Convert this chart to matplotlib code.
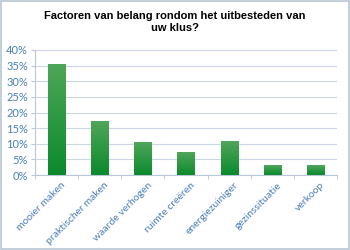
import matplotlib
matplotlib.use("Agg")
import matplotlib.pyplot as plt
import numpy as np
from matplotlib.patches import Rectangle

categories = ["mooier maken", "praktischer maken", "waarde verhogen", "ruimte creëren",
              "energiezuiniger", "gezinssituatie", "verkoop"]
values = [35.5, 17.0, 10.3, 7.3, 10.8, 2.9, 3.0]
yticks = [0, 5, 10, 15, 20, 25, 30, 35, 40]

fig = plt.figure(figsize=(3.5, 2.5), dpi=100)
fig.patches.append(Rectangle((0.003, 0.004), 0.994, 0.992, transform=fig.transFigure,
                             fill=False, edgecolor="#b9c6d6", linewidth=1.2))
ax = fig.add_axes([0.1, 0.3, 0.863, 0.5])

x = np.arange(len(categories))
width = 0.4
bars = ax.bar(x, values, width=width, color="none", zorder=3)

# vertical gradient inside each bar
grad = np.linspace(0, 1, 256).reshape(-1, 1)
cmap = matplotlib.colors.LinearSegmentedColormap.from_list("g", ["#0b8a2c", "#4fa65a"])
for b in bars:
    x0, y0 = b.get_x(), b.get_y()
    w, h = b.get_width(), b.get_height()
    ax.imshow(grad, extent=[x0, x0 + w, y0, y0 + h], origin="lower", cmap=cmap,
              aspect="auto", zorder=3)

ax.set_xlim(-0.5, len(categories) - 0.5)
ax.set_ylim(0, 40)
ax.set_yticks(yticks)
ax.set_yticklabels([f"{t}%" for t in yticks], family="Lato", color="#4a7ebb", fontsize=8)
ax.set_xticks(x + 0.1)
ax.set_xticklabels(categories, rotation=45, ha="right", rotation_mode="anchor",
                   family="Lato", color="#4a7ebb", fontsize=7.5)
ax.tick_params(axis="x", length=0, pad=4)
ax.set_xticks(np.arange(len(categories) + 1) - 0.5, minor=True)
ax.tick_params(axis="x", which="minor", length=3, color="#b9c6d6")
ax.tick_params(axis="y", length=3, color="#b9c6d6", pad=2)

ax.grid(axis="y", color="#c9d6e6", linewidth=0.8, zorder=0)
ax.set_axisbelow(True)
for s in ["top", "right"]:
    ax.spines[s].set_visible(False)
for s in ["left", "bottom"]:
    ax.spines[s].set_color("#b9c6d6")

fig.suptitle("Factoren van belang rondom het uitbesteden van\nuw klus?", fontsize=8,
             family="Liberation Sans", fontweight="bold", y=0.955, linespacing=1.2)

fig.savefig("out.png", dpi=100)
